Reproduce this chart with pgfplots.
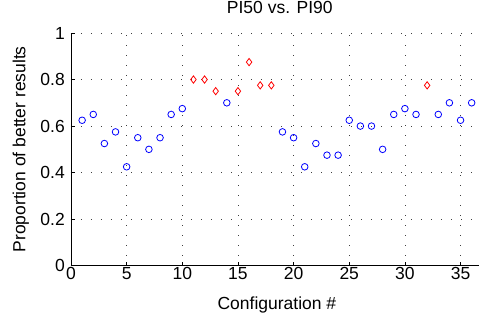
\documentclass[border=0pt]{standalone}
\usepackage{fontspec}
\setmainfont{Liberation Sans}
\usepackage{pgfplots}
\pgfplotsset{compat=1.18}
\begin{document}
\begin{tikzpicture}
\begin{axis}[
  scale only axis,
  width=411.8pt, height=232.7pt,
  xmin=0, xmax=37, ymin=0, ymax=1,
  axis lines=left,
  axis line style={-, line width=0.8pt, black},
  tick align=inside,
  major tick length=4pt,
  tick style={black, line width=0.6pt},
  xtick={0,5,...,35},
  ytick={0,0.2,0.4,0.6,0.8,1},
  yticklabels={0,0.2,0.4,0.6,0.8,1},
  grid=major,
  major grid style={black!75, line width=0.7pt, dash pattern=on 0.8pt off 9.2pt},
  font=\fontsize{17.5}{21}\selectfont,
  /pgf/number format/assume math mode=true,
  xticklabel style={anchor=base, yshift=-13.8pt, inner sep=0pt},
  yticklabel style={anchor=east, xshift=-6pt, inner sep=0pt},
  title={PI50 vs. PI90},
  title style={at={(axis description cs:0.507,1.0559)}, anchor=base, inner sep=0pt},
  xlabel={Configuration \#},
  xlabel style={at={(axis description cs:0.5,-0.1882)}, anchor=base, inner sep=0pt},
  ylabel={Proportion of better results},
  ylabel style={at={(axis description cs:-0.1105,0.5)}, anchor=base, inner sep=0pt},
]
\addplot[only marks, mark=o, mark size=3.3pt, blue, line width=0.8pt] coordinates {
(1,0.625) (2,0.65) (3,0.525) (4,0.575) (5,0.425) (6,0.55) (7,0.5) (8,0.55)
(9,0.65) (10,0.675) (14,0.70) (19,0.575) (20,0.55) (21,0.425) (22,0.525)
(23,0.475) (24,0.475) (25,0.625) (26,0.60) (27,0.60) (28,0.50) (29,0.65)
(30,0.675) (31,0.65) (33,0.65) (34,0.70) (35,0.625) (36,0.70)
};
\addplot[only marks, mark=diamond, mark size=3.65pt, red, line width=0.8pt] coordinates {
(11,0.80) (12,0.80) (13,0.75) (15,0.75) (16,0.875) (17,0.775) (18,0.775) (32,0.775)
};
\end{axis}
\pgfresetboundingbox
\useasboundingbox (-71pt,-52.3pt) rectangle (408pt,265.7pt);
\end{tikzpicture}
\end{document}
